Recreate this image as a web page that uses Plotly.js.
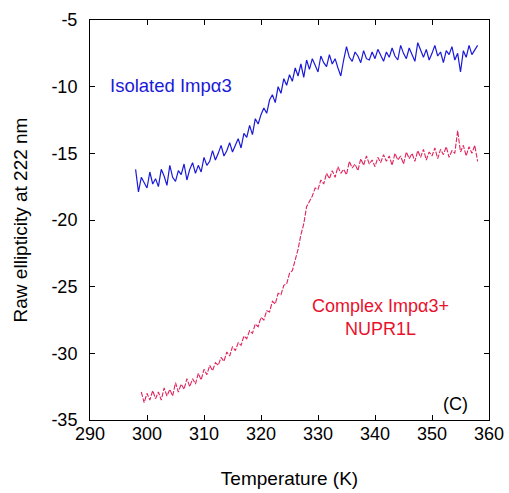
<!DOCTYPE html>
<html>
<head>
<meta charset="utf-8">
<script src="https://cdn.plot.ly/plotly-3.0.1.min.js"></script>
<style>html,body{margin:0;padding:0;background:#fff;}#chart{width:509px;height:493px;}</style>
</head>
<body>
<div id="chart"></div>
<script>
// Temperatures (K) for the isolated Impα3 series
const tempIsolated = [298,298.5,299,299.5,300,300.5,301,301.5,302,302.5,303,303.5,304,304.5,305,305.5,306,306.5,307,307.5,308,308.5,309,309.5,310,310.5,311,311.5,312,312.5,313,313.5,314,314.5,315,315.5,316,316.5,317,317.5,318,318.5,319,319.5,320,320.5,321,321.5,322,322.5,323,323.5,324,324.5,325,325.5,326,326.5,327,327.5,328,328.5,329,329.5,330,330.5,331,331.5,332,332.5,333,333.5,334,334.5,335,335.5,336,336.5,337,337.5,338,338.5,339,339.5,340,340.5,341,341.5,342,342.5,343,343.5,344,344.5,345,345.5,346,346.5,347,347.5,348,348.5,349,349.5,350,350.5,351,351.5,352,352.5,353,353.5,354,354.5,355,355.5,356,356.5,357,357.5,358];
// Raw ellipticity at 222 nm, isolated Impα3
const ellipIsolated = [-16.2,-17.9,-16.8,-17.2,-17.6,-16.4,-17.3,-16.9,-17.5,-16.2,-16.7,-17.4,-15.9,-16.8,-17.1,-16.3,-16.6,-15.8,-17.0,-16.2,-15.7,-16.5,-15.9,-16.4,-15.3,-15.9,-15.6,-14.8,-15.5,-15.0,-14.4,-15.2,-14.8,-14.2,-14.9,-14.4,-13.9,-14.6,-13.5,-13.8,-12.9,-13.6,-12.4,-12.8,-12.1,-11.6,-12.0,-11.0,-10.6,-11.2,-10.0,-10.5,-9.4,-9.9,-9.1,-9.6,-8.6,-9.2,-8.3,-9.3,-8.0,-8.7,-7.9,-8.4,-8.9,-7.7,-8.2,-8.5,-7.6,-8.3,-7.9,-8.6,-9.2,-8.0,-7.0,-7.8,-8.1,-7.4,-7.7,-8.2,-7.3,-7.9,-8.0,-7.4,-7.9,-7.2,-7.6,-8.1,-7.4,-7.8,-7.1,-7.7,-8.0,-6.9,-7.5,-7.9,-7.1,-7.6,-8.1,-6.7,-7.3,-7.8,-7.2,-8.0,-7.5,-6.9,-7.7,-7.4,-8.2,-7.3,-7.6,-7.0,-8.0,-7.5,-8.9,-7.3,-7.8,-6.9,-7.6,-7.2,-6.9];

// Temperatures (K) for the Impα3 + NUPR1L complex
const tempComplex = [299,299.5,300,300.5,301,301.5,302,302.5,303,303.5,304,304.5,305,305.5,306,306.5,307,307.5,308,308.5,309,309.5,310,310.5,311,311.5,312,312.5,313,313.5,314,314.5,315,315.5,316,316.5,317,317.5,318,318.5,319,319.5,320,320.5,321,321.5,322,322.5,323,323.5,324,324.5,325,325.5,326,326.5,327,327.5,328,328.5,329,329.5,330,330.5,331,331.5,332,332.5,333,333.5,334,334.5,335,335.5,336,336.5,337,337.5,338,338.5,339,339.5,340,340.5,341,341.5,342,342.5,343,343.5,344,344.5,345,345.5,346,346.5,347,347.5,348,348.5,349,349.5,350,350.5,351,351.5,352,352.5,353,353.5,354,354.5,355,355.5,356,356.5,357,357.5,358];
// Raw ellipticity at 222 nm, complex
const ellipComplex = [-32.9,-33.7,-33.0,-33.5,-32.8,-33.4,-32.9,-33.5,-32.6,-33.2,-32.7,-33.2,-32.2,-32.9,-32.3,-32.7,-31.9,-32.5,-31.9,-32.3,-31.5,-32.0,-31.2,-31.6,-30.9,-31.3,-30.7,-30.9,-30.3,-30.6,-29.9,-30.2,-29.5,-29.8,-29.2,-29.4,-28.7,-28.9,-28.3,-28.5,-27.8,-28.0,-27.3,-27.5,-26.8,-26.9,-26.1,-26.3,-25.5,-25.6,-24.9,-24.8,-24.0,-23.8,-23.0,-22.2,-21.1,-20.3,-19.0,-18.6,-18.2,-17.6,-17.7,-17.0,-17.3,-16.5,-16.9,-16.3,-16.8,-16.0,-16.5,-16.2,-16.6,-15.6,-16.1,-15.8,-16.3,-15.4,-15.9,-15.2,-15.8,-15.5,-16.0,-15.3,-15.7,-15.1,-15.6,-15.2,-15.9,-15.0,-15.5,-15.2,-15.8,-14.9,-15.4,-15.0,-15.6,-14.8,-15.3,-14.7,-15.5,-14.9,-15.2,-14.6,-15.4,-14.7,-15.1,-14.5,-15.3,-14.8,-15.0,-13.3,-14.9,-14.4,-15.2,-14.5,-15.0,-14.4,-15.6];

const xTicks = [290,300,310,320,330,340,350,360];
const yTicks = [-35,-30,-25,-20,-15,-10,-5];
const yTickText = ["-35","-30","-25","-20","-15","-10","-5"];

const font = "Liberation Sans, Arial, sans-serif";

const traces = [
  {x: tempIsolated, y: ellipIsolated, type: 'scatter', mode: 'lines',
   line: {color: '#1a1ad8', width: 1.2}, hoverinfo: 'skip'},
  {x: tempComplex, y: ellipComplex, type: 'scatter', mode: 'lines',
   line: {color: '#e0245c', width: 1.1, dash: '5px,1.5px'}, hoverinfo: 'skip'}
];

const axisCommon = {
  showgrid: false, zeroline: false, showline: true, linecolor: '#000', linewidth: 1,
  mirror: 'ticks', ticks: 'inside', ticklen: 5, tickcolor: '#000', tickwidth: 1,
  tickfont: {family: font, size: 18, color: '#000'}
};

const layout = {
  width: 509, height: 493,
  margin: {l: 90, r: 20, t: 20, b: 73},
  paper_bgcolor: '#fff', plot_bgcolor: '#fff',
  showlegend: false,
  xaxis: Object.assign({}, axisCommon, {
    range: [290, 360], tickvals: xTicks, ticktext: xTicks.map(String),
    ticklabelstandoff: -3,
    title: {text: 'Temperature (K)', font: {family: font, size: 19, color: '#000'}, standoff: 29}
  }),
  yaxis: Object.assign({}, axisCommon, {
    range: [-35, -5], tickvals: yTicks, ticktext: yTickText,
    ticklabelstandoff: 8,
    title: {text: 'Raw ellipticity at 222 nm', font: {family: font, size: 19, color: '#000'}, standoff: 18}
  }),
  annotations: [
    {x: 293.2, y: -9.9, xref: 'x', yref: 'y', xanchor: 'left', yanchor: 'middle', showarrow: false,
     text: 'Isolated Impα3', font: {family: font, size: 18.5, color: '#1a1ad8'}},
    {x: 341, y: -27.3, xref: 'x', yref: 'y', xanchor: 'center', yanchor: 'middle', showarrow: false,
     text: 'Complex Impα3+<br>NUPR1L', font: {family: font, size: 18, color: '#e8112d'}},
    {x: 354.2, y: -33.8, xref: 'x', yref: 'y', xanchor: 'center', yanchor: 'middle', showarrow: false,
     text: '(C)', font: {family: font, size: 18, color: '#000'}}
  ]
};

Plotly.newPlot('chart', traces, layout, {staticPlot: true, displayModeBar: false});
</script>
</body>
</html>
